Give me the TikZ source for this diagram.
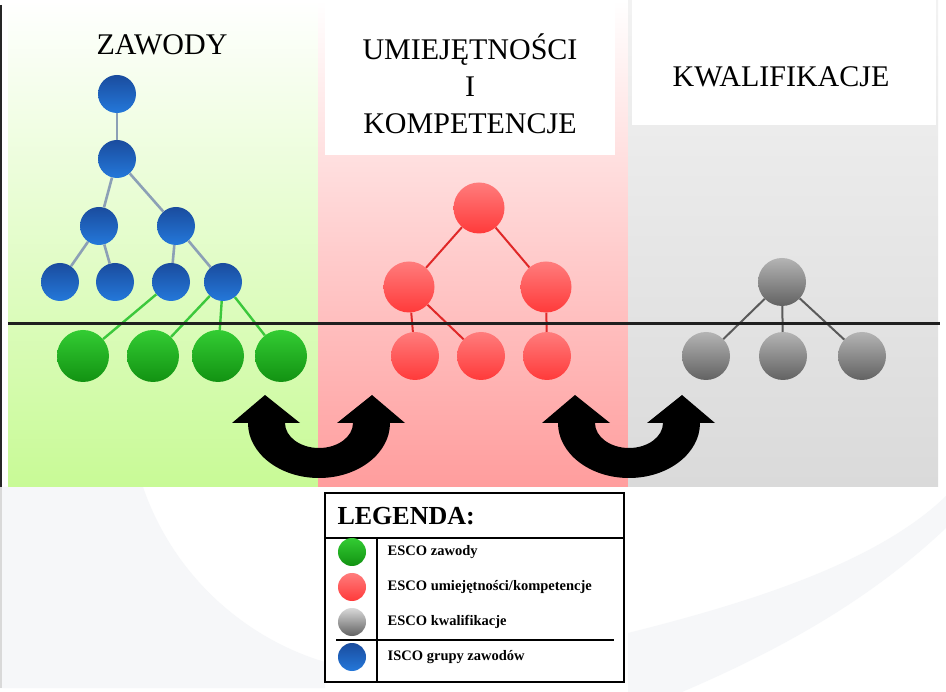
\documentclass[tikz,border=0pt]{standalone}
\usepackage{fontspec}
\setmainfont{Liberation Serif}
\usetikzlibrary{positioning}

\definecolor{iscoTop}{HTML}{1A4C9E}
\definecolor{iscoBot}{HTML}{2478DA}
\definecolor{zawTop}{HTML}{33CC33}
\definecolor{zawBot}{HTML}{129212}
\definecolor{umTop}{HTML}{FF7C7C}
\definecolor{umBot}{HTML}{FF3A3A}
\definecolor{kwTop}{HTML}{B4B4B4}
\definecolor{kwBot}{HTML}{626262}
\definecolor{zielTlo}{HTML}{C8FA96}
\definecolor{czerwTlo}{HTML}{FF9D9D}
\definecolor{szaryTlo}{HTML}{DADADA}
\definecolor{swoosh}{HTML}{F6F7F9}
\definecolor{iscoLine}{HTML}{8CA0B6}
\definecolor{zawLine}{HTML}{3CC83C}
\definecolor{umLine}{HTML}{E02828}
\definecolor{kwLine}{HTML}{5A5A5A}

\begin{document}
\begin{tikzpicture}[
				x=1pt, y=-1pt,
				kula/.style={
					circle,
					inner sep=0pt,
					draw=none
				},
				isco/.style={kula, minimum size=38pt, top color=iscoTop, bottom color=iscoBot},
				zawod/.style={kula, minimum size=52pt, top color=zawTop, bottom color=zawBot},
				umiej/.style={kula, minimum size=51pt, top color=umTop, bottom color=umBot},
				kwal/.style={kula, minimum size=48pt, top color=kwTop, bottom color=kwBot},
				iscoedge/.style={draw=iscoLine, line width=2.6pt},
				zawedge/.style={draw=zawLine, line width=2.4pt},
				umedge/.style={draw=umLine, line width=2pt},
				kwedge/.style={draw=kwLine, line width=2pt},
				tytul/.style={font=\fontsize{30}{37}\selectfont, align=center},
				legtxt/.style={font=\fontsize{14.5}{16}\selectfont\bfseries, anchor=west},
				strzalka/.style={fill=black}
			]

				% background
				\fill[white] (0,0) rectangle (946,692);
				\fill[swoosh] (0,487) -- (143,487)
					.. controls (175,580) and (250,640) .. (325,662)
					-- (325,688) -- (0,688) -- cycle;
				\fill[swoosh] (628,633)
					.. controls (760,600) and (880,560) .. (946,496)
					-- (946,528)
					.. controls (870,600) and (780,650) .. (682,692)
					-- (628,692) -- cycle;
				\draw[black!85, line width=1.5pt] (1,5) -- (1,487);
				\draw[black!15, line width=1.5pt] (1,487) -- (1,688);

				% panels
				\shade[top color=white, middle color=zielTlo!60!white, bottom color=zielTlo] (8,0) rectangle (318,487);
				\shade[top color=white, bottom color=czerwTlo] (318,0) rectangle (628,487);
				\shade[top color=white!95!black, bottom color=szaryTlo] (628,0) rectangle (938,487);
				\fill[white] (325,0) rectangle (615,155);
				\fill[white] (632,0) rectangle (936,125);

				% titles
				\node[tytul] (tzaw) at (162,45) {ZAWODY};
				\node[tytul] (tum) at (470,84) {UMIEJĘTNOŚCI\\I\\KOMPETENCJE};
				\node[tytul] (tkw) at (781,77) {KWALIFIKACJE};

				% ISCO tree
				\node[isco] (b1) at (117,94) {};
				\node[isco] (b2) at (117,159) {};
				\node[isco] (b3) at (99,226) {};
				\node[isco] (b4) at (176,226) {};
				\node[isco] (b5) at (60,282) {};
				\node[isco] (b6) at (115,282) {};
				\node[isco] (b7) at (171,282) {};
				\node[isco] (b8) at (223,282) {};

				\draw[iscoedge] (b1) -- (b2);
				\draw[iscoedge] (b2) -- (b3);
				\draw[iscoedge] (b2) -- (b4);
				\draw[iscoedge] (b3) -- (b5);
				\draw[iscoedge] (b3) -- (b6);
				\draw[iscoedge] (b4) -- (b7);
				\draw[iscoedge] (b4) -- (b8);

				% ESCO zawody
				\node[zawod] (g1) at (83,356) {};
				\node[zawod] (g2) at (153,356) {};
				\node[zawod] (g3) at (218,356) {};
				\node[zawod] (g4) at (281,356) {};

				\draw[zawedge] (b7) -- (g1);
				\draw[zawedge] (b8) -- (g2);
				\draw[zawedge] (b8) -- (g3);
				\draw[zawedge] (b8) -- (g4);

				% umiejetnosci
				\node[umiej] (r1) at (479,208) {};
				\node[umiej] (r2) at (409,287) {};
				\node[umiej] (r3) at (546,287) {};
				\node[umiej, minimum size=48pt] (r4) at (415,356) {};
				\node[umiej, minimum size=48pt] (r5) at (481,356) {};
				\node[umiej, minimum size=48pt] (r6) at (547,356) {};

				\draw[umedge] (r1) -- (r2);
				\draw[umedge] (r1) -- (r3);
				\draw[umedge] (r2) -- (r4);
				\draw[umedge] (r2) -- (r5);
				\draw[umedge] (r3) -- (r6);

				% kwalifikacje
				\node[kwal] (k1) at (782,282) {};
				\node[kwal] (k2) at (706,356) {};
				\node[kwal] (k3) at (783,356) {};
				\node[kwal] (k4) at (862,356) {};

				\draw[kwedge] (k1) -- (k2);
				\draw[kwedge] (k1) -- (k3);
				\draw[kwedge] (k1) -- (k4);

				% horizon
				\draw[black!88, line width=3pt] (8,324) -- (940,324);

				% arrows
				\foreach \dx in {0,310} {
					\fill[strzalka, xshift=\dx] (265,395) -- (300,423) -- (285,423)
						arc[start angle=180, end angle=0, x radius=34, y radius=25]
						-- (337,423) -- (372,395) -- (405,423) -- (390,423)
						arc[start angle=0, end angle=180, x radius=71, y radius=55]
						-- (232,423) -- cycle;
				}

				% legend
				\draw[white, fill=white, line width=2.5pt] (325,493) rectangle (624,682);
				\draw[black, line width=2.5pt] (325,493) rectangle (624,682);
				\node[font=\fontsize{26}{30}\selectfont\bfseries, anchor=west] (leg) at (334,516) {LEGENDA:};
				\draw[black, line width=1.2pt] (325,538) -- (624,538);
				\draw[black, line width=1.2pt] (377,538) -- (377,682);
				\draw[black, line width=1.2pt] (336,640) -- (614,640);

				\node[zawod, minimum size=28pt] (lz) at (352,552) {};
				\node[umiej, minimum size=28pt] (lu) at (352,587) {};
				\node[kwal, minimum size=28pt, top color=white!85!black] (lk) at (352,622) {};
				\node[isco, minimum size=28pt] (li) at (352,657) {};

				\node[legtxt, right=18pt of lz] (tz) {ESCO zawody};
				\node[legtxt, right=18pt of lu] (tu) {ESCO umiejętności/kompetencje};
				\node[legtxt, right=18pt of lk] (tk) {ESCO kwalifikacje};
				\node[legtxt, right=18pt of li] (ti) {ISCO grupy zawodów};

			\end{tikzpicture}
\end{document}
